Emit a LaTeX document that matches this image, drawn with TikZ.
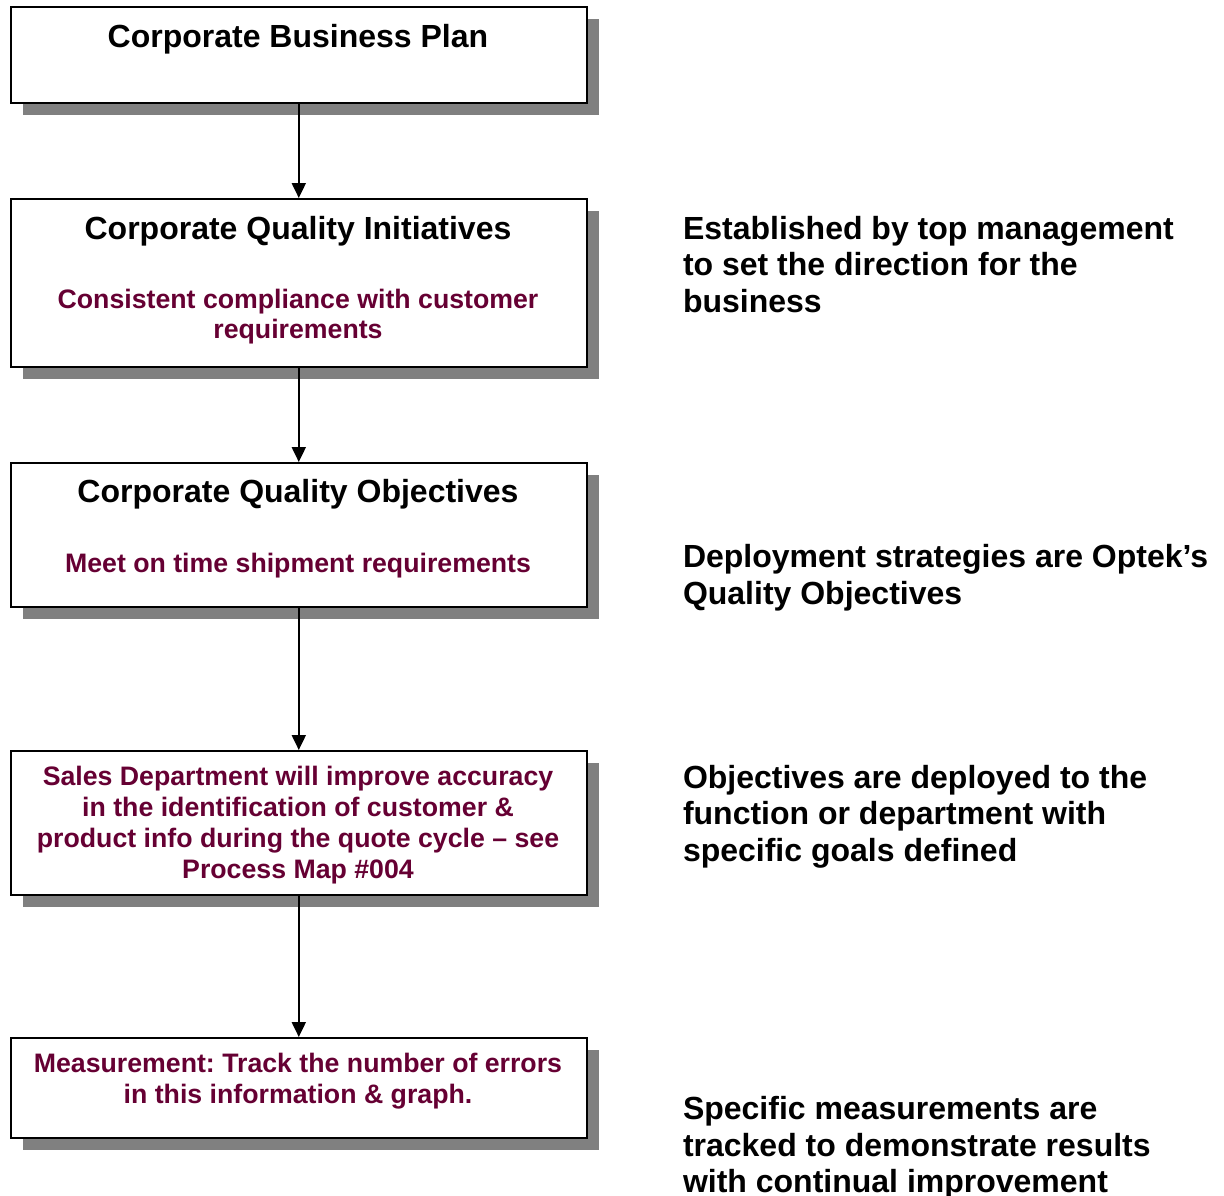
\documentclass[tikz,border=0pt]{standalone}
\usepackage{fontspec}
\setmainfont{Liberation Sans}
\usetikzlibrary{arrows.meta,shadows,positioning}
\definecolor{wine}{RGB}{102,0,51}
\frenchspacing
\tikzset{
    stage/.style={
           rectangle,
           draw=black, line width=1.6pt,
           fill=white,
           minimum width=576pt,
           inner sep=0pt,
           anchor=north west,
           drop shadow={shadow xshift=12pt, shadow yshift=-12pt, fill=black!50, opacity=1},
           },
    head/.style={font=\fontsize{32}{36.7}\selectfont\bfseries, align=center, inner sep=0pt},
    goal/.style={font=\fontsize{26.7}{30.8}\selectfont\bfseries, text=wine, align=center, inner sep=0pt},
    note/.style={font=\fontsize{32}{36.7}\selectfont\bfseries, align=left, anchor=west, inner sep=0pt},
}

\begin{document}
\begin{tikzpicture}[x=1pt,y=-1pt,>={Triangle[width=14pt,length=15pt]},line width=2pt]

 \useasboundingbox (0,0) rectangle (1224,1195);

 % the five stages
 \node[stage, minimum height=96pt]  (plan)    at (10,6)    {};
 \node[stage, minimum height=168pt] (init)    at (10,198)  {};
 \node[stage, minimum height=144pt] (obj)     at (10,462)  {};
 \node[stage, minimum height=144pt] (sales)   at (10,750)  {};
 \node[stage, minimum height=100pt] (measure) at (10,1037) {};

 \node[head] (planT) at (298,39)  {Corporate Business Plan};
 \node[head] (initT) at (298,231) {Corporate Quality Initiatives};
 \node[goal] (initG) at (298,316.5) {Consistent compliance with customer\\requirements};
 \node[head] (objT)  at (298,494) {Corporate Quality Objectives};
 \node[goal] (objG)  at (298,566) {Meet on time shipment requirements};
 \node[goal] (salesG) at (298,825)
  {Sales Department will improve accuracy\\in the identification of customer \&\\product info during the quote cycle – see\\Process Map \#004};
 \node[goal] (measureG) at (298,1081)
  {Measurement: Track the number of errors\\in this information \& graph.};

 % notes on the right
 \node[note] (n1) at (682,264.5) {Established by top management\\to set the direction for the\\business};
 \node[note] (n2) at (682,577.5) {Deployment strategies are Optek’s\\Quality Objectives};
 \node[note] (n3) at (682,816.5) {Objectives are deployed to the\\function or department with\\specific goals defined};
 \node[note] (n4) at (682,1148) {Specific measurements are\\tracked to demonstrate results\\with continual improvement};

 \draw[->] (plan)  -- (init);
 \draw[->] (init)  -- (obj);
 \draw[->] (obj)   -- (sales);
 \draw[->] (sales) -- (measure);

\end{tikzpicture}
\end{document}
